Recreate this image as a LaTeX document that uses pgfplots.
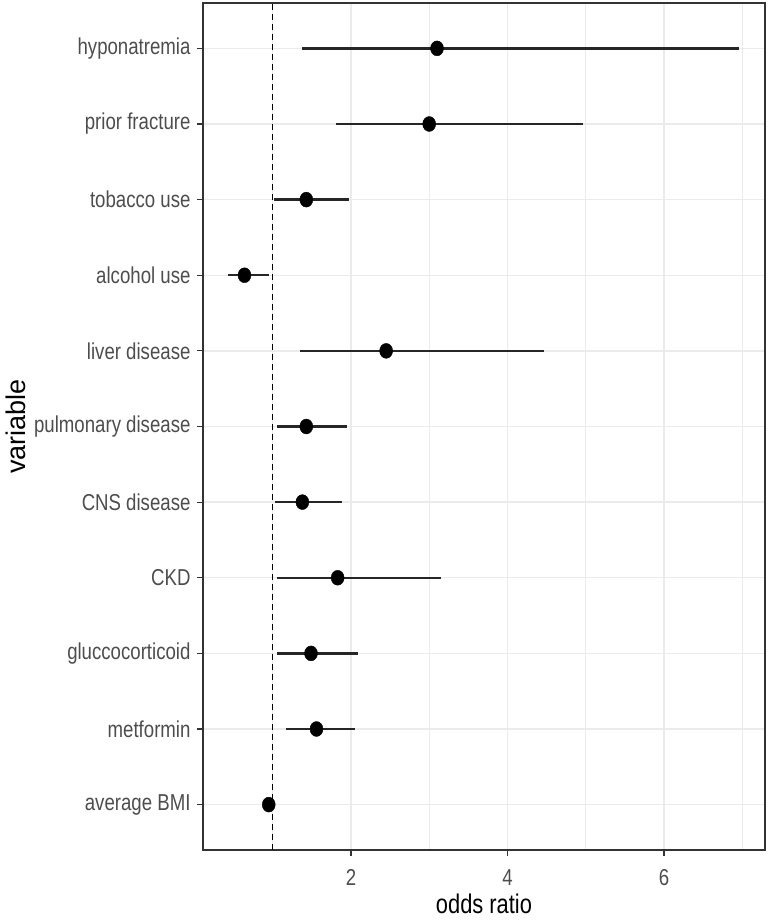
\documentclass[border=0pt]{standalone}
\usepackage{fontspec}
\setmainfont{Liberation Sans}[FakeStretch=0.81]
\newfontfamily\ylabfont{Liberation Sans}
\usepackage{pgfplots}
\pgfplotsset{compat=1.18}
\usepackage{pgfplotstable}
\definecolor{frame}{HTML}{333333}
\definecolor{ticklab}{HTML}{4D4D4D}
\definecolor{gridc}{HTML}{EBEBEB}
\pgfplotstableread{
y or lo hi
11 3.10 1.37 6.96
10 3.00 1.81 4.97
9 1.43 1.02 1.97
8 0.64 0.43 0.95
7 2.45 1.35 4.47
6 1.43 1.05 1.95
5 1.38 1.03 1.89
4 1.83 1.05 3.15
3 1.49 1.05 2.09
2 1.56 1.17 2.05
1 0.95 0.93 0.97
}\datatable
\begin{document}
\begin{tikzpicture}
\begin{axis}[
  name=ax,
  scale only axis,
  width=562bp, height=847bp,
  xmin=0.11, xmax=7.29,
  ymin=0.4, ymax=11.6,
  xtick={2,4,6},
  minor xtick={1,3,5,7},
  ytick={1,...,11},
  yticklabels={average BMI,metformin,gluccocorticoid,CKD,CNS disease,pulmonary disease,liver disease,alcohol use,tobacco use,prior fracture,hyponatremia},
  grid=both,
  major grid style={gridc, line width=1.3bp},
  minor grid style={gridc, line width=0.7bp},
  axis line style={frame, line width=1.5bp},
  tick style={frame, line width=1.2bp},
  tick align=outside,
  major tick length=6bp,
  minor tick length=0bp,
  xtick pos=bottom, ytick pos=left,
  /pgf/number format/assume math mode=true,
  ticklabel style={font=\fontsize{23bp}{27bp}\selectfont, text=ticklab},
  xticklabel style={yshift=-10bp},
  yticklabel style={xshift=-3bp},
  xlabel={odds ratio},
  ylabel={\ylabfont variable},
  label style={font=\fontsize{27bp}{31bp}\selectfont, text=black},
  xlabel style={inner sep=0pt, yshift=-5bp},
  ylabel style={yshift=2bp},
  clip=false,
]
\addplot[black, line width=1.6bp, dash pattern=on 6bp off 4bp] coordinates {(1,0.4) (1,11.6)};
\addplot[only marks, mark=*, mark size=6.5bp, black,
  every mark/.append style={yscale=1.15},
  error bars/.cd, x dir=both, x explicit,
  error mark=none,
  error bar style={line width=2.4bp, black!85}]
  table[x=or, y=y, x error plus expr=\thisrow{hi}-\thisrow{or}, x error minus expr=\thisrow{or}-\thisrow{lo}] {\datatable};
\end{axis}
\pgfresetboundingbox
\path ([xshift=-203bp,yshift=-70bp]ax.south west) rectangle ([xshift=3bp,yshift=3bp]ax.north east);
\end{tikzpicture}
\end{document}
